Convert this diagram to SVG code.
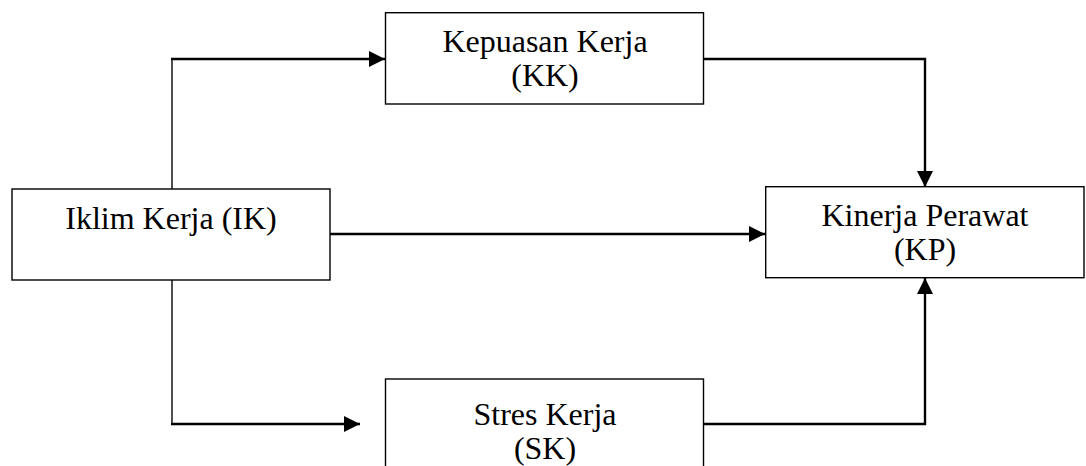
<svg xmlns="http://www.w3.org/2000/svg" width="1086" height="466" viewBox="0 0 1086 466">
<style>
.box{fill:#fff;stroke:#000;stroke-width:1.4}
.lbl{font-family:"Liberation Serif","Times New Roman",serif;font-size:32px;fill:#000;text-anchor:middle}
.conn{fill:none;stroke:#000;stroke-width:2.4}
.thin{fill:none;stroke:#222;stroke-width:1.6}
</style>
<defs>
<marker id="ah" markerUnits="userSpaceOnUse" markerWidth="16" markerHeight="16" viewBox="0 0 16 16" refX="16" refY="8" orient="auto">
<path d="M0,0 L16,8 L0,16 Z" fill="#000"/>
</marker>
</defs>
<g id="connectors">
<path class="thin" d="M172,189 V59"/>
<path class="conn" d="M171,59 H385" marker-end="url(#ah)"/>
<path class="thin" d="M172,280 V424"/>
<path class="conn" d="M171,424 H360" marker-end="url(#ah)"/>
<path class="conn" d="M330,234 H765" marker-end="url(#ah)"/>
<path class="conn" d="M703,59 H925 V187" marker-end="url(#ah)"/>
<path class="conn" d="M704,424 H925 V278" marker-end="url(#ah)"/>
</g>
<g id="KK">
<rect class="box" x="385.5" y="12.7" width="318" height="91.3"/>
<text class="lbl" x="545" y="52">Kepuasan Kerja</text>
<text class="lbl" x="545" y="86">(KK)</text>
</g>
<g id="IK">
<rect class="box" x="12" y="189" width="318" height="91"/>
<text class="lbl" x="171" y="229">Iklim Kerja (IK)</text>
</g>
<g id="KP">
<rect class="box" x="765.7" y="186.7" width="318.3" height="91"/>
<text class="lbl" x="925" y="226">Kinerja Perawat</text>
<text class="lbl" x="925" y="260">(KP)</text>
</g>
<g id="SK">
<rect class="box" x="385.5" y="379" width="318" height="100"/>
<text class="lbl" x="545" y="425">Stres Kerja</text>
<text class="lbl" x="545" y="459">(SK)</text>
</g>
</svg>
